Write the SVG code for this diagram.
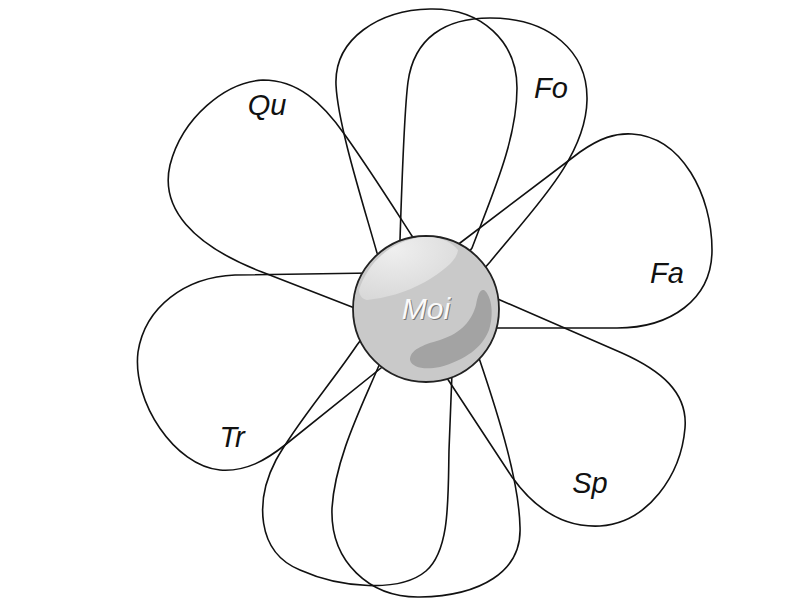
<svg xmlns="http://www.w3.org/2000/svg" width="800" height="604" viewBox="0 0 800 604">
<defs>
<style>
.petal{fill:none;stroke:#111;stroke-width:1.6;stroke-linejoin:round;stroke-linecap:round}
.lbl{font-family:"Liberation Sans",Arial,sans-serif;font-style:italic;font-size:29px;fill:#111;text-anchor:middle}
.moi{font-family:"Liberation Sans",Arial,sans-serif;font-style:italic;font-size:30px;text-anchor:middle}
</style>
<radialGradient id="hl" cx="0.35" cy="0.2" r="0.8">
<stop offset="0" stop-color="#efefef"/>
<stop offset="1" stop-color="#d9d9d9"/>
</radialGradient>
</defs>
<rect width="800" height="604" fill="#fff"/>
<g id="connectors">
<g id="petal-a"><path class="petal" d="M384,261 L377,253 C362,200 338,125 336,85 C334,38 380,10 430,9 C482,8 517,42 517,88 C517,140 492,195 472,248 L466,256"/></g>
<g id="petal-fo"><path class="petal" d="M404,249 L400,240 C402,180 404,112 408,82 C414,38 445,18 490,18 C550,18 588,52 587,100 C586,158 532,210 490,262 L482,271"/></g>
<g id="petal-qu"><path class="petal" d="M361,311 L352,307 L262,272 C192,245 160,208 170,165 C182,118 225,82 263,80 C297,80 322,102 345,135 C370,170 392,205 412,236 L417,244"/></g>
<g id="petal-fa"><path class="petal" d="M452,249 L460,243 L580,152 C600,138 615,133 632,134 C682,137 712,195 712,250 C712,300 670,328 617,328 L490,328"/></g>
<g id="petal-sp"><path class="petal" d="M491,296 L500,300 L622,353 C660,370 688,392 685,428 C681,475 648,523 600,526 C560,528 532,505 512,477 L445,375"/></g>
<g id="petal-d"><path class="petal" d="M381,361 L377,370 C360,410 335,460 332,508 C330,562 370,598 420,597 C480,596 522,572 520,527 C519,482 500,420 479,358"/></g>
<g id="petal-c"><path class="petal" d="M363,337 L357,345 C330,385 295,425 276,460 C255,500 256,552 300,570 C340,588 400,593 426,571 C450,550 448,500 449,450 L452,373"/></g>
<g id="petal-tr"><path class="petal" d="M373,273 L235,275 C185,277 145,307 138,352 C132,402 175,466 220,470 C246,472 266,460 285,445 L386,364"/></g>
</g>
<g id="moi">
<circle cx="426" cy="309" r="73" fill="#c9c9c9" stroke="#222" stroke-width="1.8"/>
<path d="M359,290 C368,262 392,240 423,237 C440,236 452,242 458,250 C457,260 445,270 425,282 C405,293 385,298 367,300 C362,299 359,295 359,290 Z" fill="url(#hl)"/>
<path d="M484,290 C492,296 494,315 489,330 C482,348 465,360 440,367 C425,370 412,368 410,360 C410,350 422,345 440,340 C462,333 472,320 476,305 C478,294 480,289 484,290 Z" fill="#a3a3a3"/>
<text class="moi" x="427" y="320" fill="#777">Moi</text>
<text class="moi" x="426" y="319" fill="#fafafa">Moi</text>
</g>
<g id="labels">
<text class="lbl" x="267" y="115">Qu</text>
<text class="lbl" x="551" y="98">Fo</text>
<text class="lbl" x="667" y="283">Fa</text>
<text class="lbl" x="590" y="493">Sp</text>
<text class="lbl" x="232" y="447">Tr</text>
</g>
</svg>
